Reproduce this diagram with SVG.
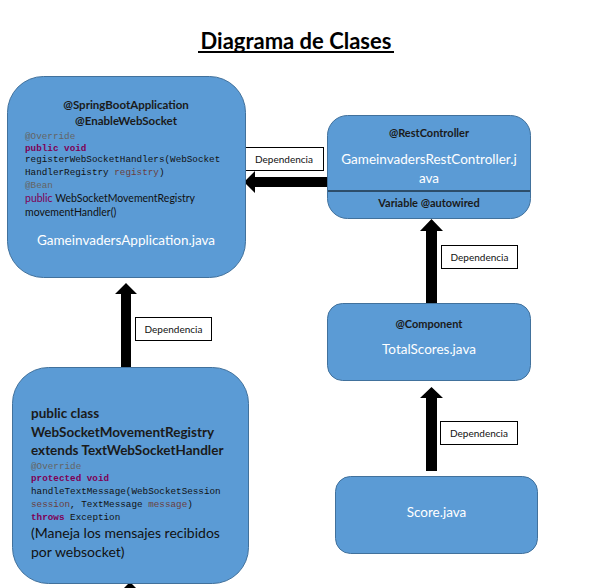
<svg xmlns="http://www.w3.org/2000/svg" width="592" height="588" viewBox="0 0 592 588">
<defs>
<style>
.node{fill:#5B9BD5;stroke:#41719C;stroke-width:1}
.hd{font-family:Lato,"Liberation Sans",sans-serif;font-weight:bold;fill:#1a1a1a}
.fn{font-family:Lato,"Liberation Sans",sans-serif;fill:#ffffff}
.txt{font-family:Lato,"Liberation Sans",sans-serif;fill:#111111}
.mono{font-family:"Liberation Mono","DejaVu Sans Mono",monospace;font-size:9.3px;fill:#111111}
.ann{fill:#646464}
.kw{fill:#7F0055}
.var{fill:#6A3E3E}
.lbl{fill:#ffffff;stroke:#000000;stroke-width:1}
.lt{font-family:Lato,"Liberation Sans",sans-serif;font-size:10px;fill:#111111}
.arr{fill:#000000}
</style>
</defs>
<rect width="592" height="588" fill="#ffffff"/>
<text x="296" y="49" text-anchor="middle" font-family="Lato,'Liberation Sans',sans-serif" font-weight="bold" font-size="22" fill="#000">Diagrama de Clases</text>
<rect x="198" y="51" width="196" height="2" fill="#000"/>

<g id="connectors">
  <polygon class="arr" points="121,367 121,294 115,294 126,283 137,294 131,294 131,367"/>
  <rect class="lbl" x="135.5" y="317.5" width="76" height="23"/>
  <text class="lt" x="173.5" y="332.5" text-anchor="middle">Dependencia</text>

  <polygon class="arr" points="328,177 255,177 255,171 244,182 255,193 255,187 328,187"/>
  <rect class="lbl" x="244.5" y="147.5" width="79" height="23"/>
  <text class="lt" x="284" y="162.5" text-anchor="middle">Dependencia</text>

  <polygon class="arr" points="426,303 426,231 420,231 431.5,219 443,231 437,231 437,303"/>
  <rect class="lbl" x="441.5" y="245.5" width="76" height="23"/>
  <text class="lt" x="479.5" y="260.5" text-anchor="middle">Dependencia</text>

  <polygon class="arr" points="426,471 426,398 420,398 431.5,387 443,398 437,398 437,471"/>
  <rect class="lbl" x="440.5" y="421.5" width="77" height="23"/>
  <text class="lt" x="479" y="436.5" text-anchor="middle">Dependencia</text>

  <polygon class="arr" points="130,582 136,588 124,588"/>
</g>

<g id="node-app">
  <rect class="node" x="7.5" y="76.5" width="238" height="201" rx="36" ry="36"/>
  <text class="hd" x="126" y="109" text-anchor="middle" font-size="11.5">@SpringBootApplication</text>
  <text class="hd" x="126" y="125" text-anchor="middle" font-size="11.5">@EnableWebSocket</text>
  <text class="mono ann" x="25" y="139">@Override</text>
  <text class="mono kw" x="25" y="151" font-weight="bold">public void</text>
  <text class="mono" x="25" y="162">registerWebSocketHandlers(WebSocket</text>
  <text class="mono" x="25" y="175">HandlerRegistry <tspan class="var">registry</tspan>)</text>
  <text class="mono ann" x="25" y="188">@Bean</text>
  <text class="txt" x="25" y="202" font-size="10.5"><tspan class="kw">public</tspan> WebSocketMovementRegistry</text>
  <text class="txt" x="25" y="216" font-size="10.5">movementHandler()</text>
  <text class="fn" x="126" y="245" text-anchor="middle" font-size="13.5">GameinvadersApplication.java</text>
</g>

<g id="node-rest">
  <rect class="node" x="327.5" y="115.5" width="203" height="103" rx="20" ry="20"/>
  <line x1="328" y1="191" x2="530" y2="191" stroke="#000" stroke-width="1"/>
  <text class="hd" x="429" y="137" text-anchor="middle" font-size="11">@RestController</text>
  <text class="fn" x="429" y="164" text-anchor="middle" font-size="13.5">GameinvadersRestController.j</text>
  <text class="fn" x="429" y="183" text-anchor="middle" font-size="13.5">ava</text>
  <text class="hd" x="429" y="207" text-anchor="middle" font-size="11">Variable @autowired</text>
</g>

<g id="node-totalscores">
  <rect class="node" x="327.5" y="303.5" width="203" height="77" rx="15" ry="15"/>
  <text class="hd" x="429" y="328" text-anchor="middle" font-size="11">@Component</text>
  <text class="fn" x="429" y="354" text-anchor="middle" font-size="13.5">TotalScores.java</text>
</g>

<g id="node-score">
  <rect class="node" x="335.5" y="476.5" width="202" height="77" rx="15" ry="15"/>
  <text class="fn" x="436.5" y="517" text-anchor="middle" font-size="13.5">Score.java</text>
</g>

<g id="node-handler">
  <rect class="node" x="12.5" y="367.5" width="236" height="216" rx="36" ry="36"/>
  <text class="hd" x="31" y="418" font-size="13.5">public class</text>
  <text class="hd" x="31" y="437" font-size="13.5">WebSocketMovementRegistry</text>
  <text class="hd" x="31" y="455" font-size="13.5">extends TextWebSocketHandler</text>
  <text class="mono ann" x="31" y="469">@Override</text>
  <text class="mono kw" x="31" y="481" font-weight="bold">protected void</text>
  <text class="mono" x="31" y="494">handleTextMessage(WebSocketSession</text>
  <text class="mono" x="31" y="507"><tspan class="var">session</tspan>, TextMessage <tspan class="var">message</tspan>)</text>
  <text class="mono" x="31" y="520"><tspan class="kw" font-weight="bold">throws</tspan> Exception</text>
  <text class="txt" x="31" y="538" font-size="14">(Maneja los mensajes recibidos</text>
  <text class="txt" x="31" y="557" font-size="14">por websocket)</text>
</g>
</svg>
